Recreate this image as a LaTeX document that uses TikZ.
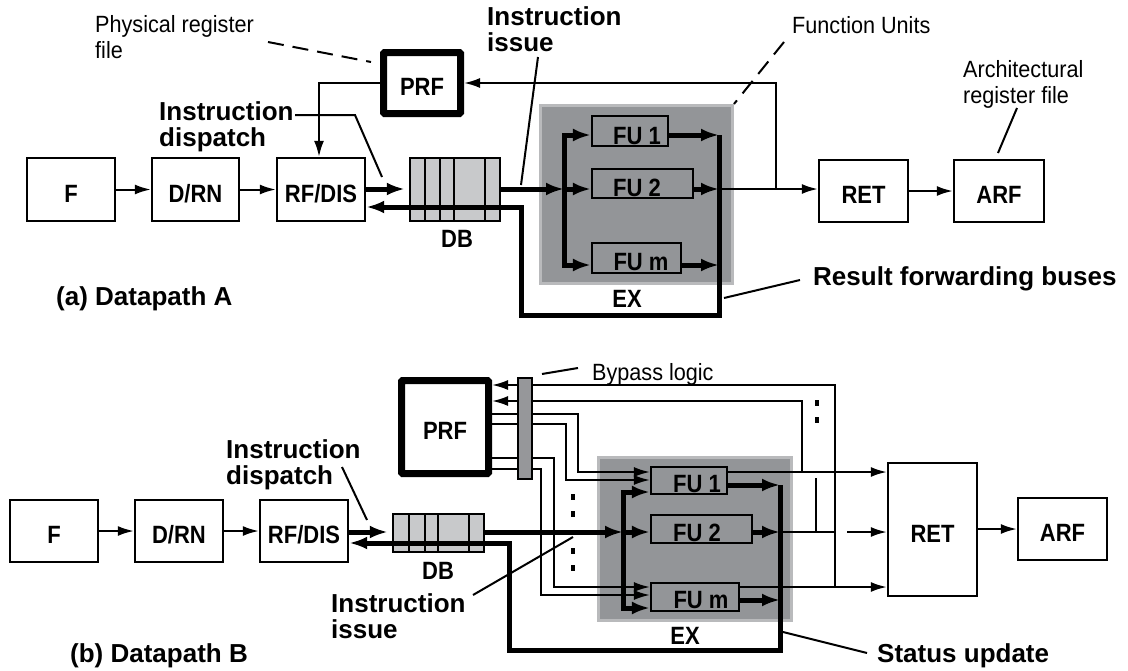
\documentclass[tikz,border=0pt]{standalone}
\usepackage{fontspec}
\setmainfont{Liberation Sans}
\newfontfamily\condf[FakeStretch=0.88]{Liberation Sans}
\newfontfamily\notef[FakeStretch=0.92]{Liberation Sans}
\usetikzlibrary{arrows.meta}
\definecolor{exgray}{RGB}{147,149,152}
\definecolor{exedge}{RGB}{185,186,188}
\definecolor{dbgray}{RGB}{200,201,203}
\definecolor{bargray}{RGB}{150,151,154}
\tikzset{
  blk/.style={draw=black, line width=2.4pt, inner sep=0pt, text height=25pt, text depth=0pt, font={\condf\bfseries\fontsize{25}{27}\selectfont}},
  prfbox/.style={blk, line width=7pt, rounded corners=1pt},
  dbbox/.style={draw=black, fill=dbgray, line width=2.4pt, inner sep=0pt},
  barbox/.style={draw=black, fill=bargray, line width=2pt, inner sep=0pt},
  exbox/.style={draw=exedge, fill=exgray, line width=3pt, inner sep=0pt},
  fubox/.style={draw=black, line width=2.2pt, inner sep=0pt},
  lbl/.style={inner sep=0pt, text height=17.5pt, text depth=0pt, font={\condf\bfseries\fontsize{25}{27}\selectfont}},
  note/.style={inner sep=0pt, align=left, font={\notef\fontsize{23.5}{26}\selectfont}},
  bnote/.style={inner sep=0pt, align=left, font={\bfseries\fontsize{26}{26}\selectfont}},
  wire/.style={line width=2pt},
  wirear/.style={wire, -{Latex[length=16pt,width=10pt]}},
  bus/.style={line width=5pt},
  busar/.style={bus, -{Latex[length=18pt,width=13pt]}},
  busboth/.style={bus, {Latex[length=18pt,width=13pt]}-{Latex[length=18pt,width=13pt]}},
  leader/.style={line width=2pt},
  dleader/.style={line width=2pt, dash pattern=on 16pt off 9pt},
  dotmark/.style={line width=3.5pt},
}
\begin{document}
\begin{tikzpicture}[x=1pt,y=-1pt]
\useasboundingbox (0,0) rectangle (1128,670);

% ================= (a) Datapath A =================
\node[exbox, minimum width=192, minimum height=178] (exA) at (636.5,194.5) {};
\node[fubox, minimum width=76, minimum height=30] (fu1A) at (630,131) {};
\node[fubox, minimum width=101, minimum height=29] (fu2A) at (642.5,183.5) {};
\node[fubox, minimum width=89, minimum height=30] (fumA) at (636.5,258) {};
\node[lbl] (fu1tA) at (637,136) {FU 1};
\node[lbl] (fu2tA) at (637,188) {FU 2};
\node[lbl] (fumtA) at (641,262) {FU m};
\node[lbl] (extA) at (627,298.5) {EX};

\node[blk, minimum width=88, minimum height=63] (fA) at (71,189.5) {F};
\node[blk, minimum width=87, minimum height=63] (drnA) at (195.5,189.5) {D/RN};
\node[blk, minimum width=88, minimum height=63] (rfA) at (321,189.5) {RF/DIS};
\node[dbbox, minimum width=90, minimum height=63] (dbA) at (455,189.5) {};
\foreach \xx in {425,440,454,485} \draw[wire] (\xx,158) -- (\xx,221);
\node[lbl] (dbtA) at (457,238.5) {DB};
\node[prfbox, minimum width=77, minimum height=61] (prfA) at (422,83) {PRF};
\node[blk, minimum width=89, minimum height=62] (retA) at (863.5,191) {RET};
\node[blk, minimum width=90, minimum height=62] (arfA) at (999,191) {ARF};

\coordinate (yiA) at (0,189);
\coordinate (yrA) at (0,207);
\coordinate (y1A) at (0,135);
\coordinate (ymA) at (0,265);
\coordinate (ybA) at (0,315);
\coordinate (ypA) at (0,83);
\coordinate (lbA) at (564,0);
\coordinate (rbA) at (719,0);
\coordinate (rxA) at (521,0);
\coordinate (fbA) at (776,0);
\coordinate (pxA) at (319,0);

\draw[wirear] (fA) -- (drnA);
\draw[wirear] (drnA) -- (rfA);
\draw[wirear] (retA) -- (arfA);
\draw[busar, shorten >=4pt] (rfA.east |- yiA) -- (dbA.west |- yiA);
\draw[busar] (dbA.east |- yiA) -- (lbA |- yiA);
\draw[busar] (lbA |- yiA) -- (fu2A.west |- yiA);
\draw[busboth] (fu1A.west |- y1A) -- (lbA |- y1A) -- (lbA |- ymA) -- (fumA.west |- ymA);
\draw[busar] (fu1A.east |- y1A) -- (rbA |- y1A);
\draw[busar] (fu2A.east |- yiA) -- (rbA |- yiA);
\draw[busar] (fumA.east |- ymA) -- (rbA |- ymA);
\draw[busar] (rbA |- y1A) -- (rbA |- ybA) -- (rxA |- ybA) -- (rxA |- yrA) -- (rfA.east |- yrA);
\draw[wirear] (rbA |- yiA) -- (retA.west |- yiA);
\draw[wirear] (fbA |- yiA) -- (fbA |- ypA) -- (prfA.east |- ypA);
\draw[wirear] (prfA.west |- ypA) -- (pxA |- ypA) -- (pxA |- rfA.north);

% labels (a)
\node[note, anchor=north west] (physA) at (95,15) {Physical register\\file};
\coordinate (physA1) at (268,42); \coordinate (physA2) at (371,62);
\draw[dleader] (physA1) -- (physA2);
\node[bnote, anchor=north west] (dispA) at (159,101.4) {Instruction\\dispatch};
\coordinate (dispA1) at (295,115); \coordinate (dispA2) at (355,115); \coordinate (dispA3) at (382,177);
\draw[leader] (dispA1) -- (dispA2) -- (dispA3);
\node[bnote, anchor=north west] (issA) at (487,6.4) {Instruction\\issue};
\coordinate (issA1) at (538,57); \coordinate (issA2) at (521,185);
\draw[leader] (issA1) -- (issA2);
\node[note, anchor=base west] (fuA) at (792,33) {Function Units};
\coordinate (fuA1) at (784,42);
\draw[dleader] (fuA1) -- (exA.north east);
\node[note, anchor=north west] (archA) at (963,60) {Architectural\\register file};
\coordinate (archA1) at (1017,108); \coordinate (archA2) at (998,153);
\draw[leader] (archA1) -- (archA2);
\node[bnote, anchor=base west] (resA) at (813,285) {Result forwarding buses};
\coordinate (resA1) at (724,298); \coordinate (resA2) at (800,280);
\draw[leader] (resA1) -- (resA2);
\node[bnote, anchor=base west] (capA) at (56,305) {(a) Datapath A};

% ================= (b) Datapath B =================
\node[exbox, minimum width=193, minimum height=163] (exB) at (695,539) {};
\node[fubox, minimum width=76, minimum height=27] (fu1B) at (689,480.5) {};
\node[fubox, minimum width=101, minimum height=28] (fu2B) at (701.5,529) {};
\node[fubox, minimum width=88, minimum height=28] (fumB) at (695,597) {};
\node[lbl] (fu1tB) at (697,484) {FU 1};
\node[lbl] (fu2tB) at (697,533) {FU 2};
\node[lbl] (fumtB) at (701,600) {FU m};
\node[lbl] (extB) at (685,635.5) {EX};

\node[blk, minimum width=88, minimum height=62] (fB) at (54,531) {F};
\node[blk, minimum width=88, minimum height=62] (drnB) at (179,531) {D/RN};
\node[blk, minimum width=88, minimum height=62] (rfB) at (304,531) {RF/DIS};
\node[dbbox, minimum width=91, minimum height=38] (dbB) at (438.5,533) {};
\foreach \xx in {409,425,438,469} \draw[wire] (\xx,514) -- (\xx,552);
\node[lbl] (dbtB) at (438,571) {DB};
\node[prfbox, minimum width=87, minimum height=93] (prfB) at (445,427) {PRF};
\node[barbox, minimum width=14, minimum height=101] (barB) at (525,428.5) {};
\node[blk, minimum width=89, minimum height=133] (retB) at (932.5,529.5) {RET};
\node[blk, minimum width=89, minimum height=62] (arfB) at (1062.5,529) {ARF};

\coordinate (yiB) at (0,532);
\coordinate (yrB) at (0,543);
\coordinate (yt1B) at (0,492);
\coordinate (ytmB) at (0,608);
\coordinate (yo1B) at (0,485);
\coordinate (yomB) at (0,600);
\coordinate (ybB) at (0,650);
\coordinate (lbB) at (623,0);
\coordinate (rbB) at (780,0);
\coordinate (rxB) at (509,0);
\coordinate (w1B) at (0,472);
\coordinate (w1uB) at (0,480);
\coordinate (wmB) at (0,587);
\coordinate (wmuB) at (0,595);
\coordinate (b1B) at (0,385);
\coordinate (b2B) at (0,401);
\coordinate (b3B) at (0,414);
\coordinate (b4B) at (0,424);
\coordinate (b5B) at (0,458);
\coordinate (b6B) at (0,469);
\coordinate (y478B) at (0,478);
\coordinate (fxaB) at (835,0);
\coordinate (fxbB) at (802,0);
\coordinate (fxcB) at (816,0);
\coordinate (gapB) at (847,0);
\coordinate (ixaB) at (578,0);
\coordinate (ixbB) at (566,0);
\coordinate (ixcB) at (554,0);
\coordinate (ixdB) at (541,0);

\draw[wirear] (fB) -- (drnB);
\draw[wirear] (drnB) -- (rfB);
\draw[wirear] (retB.east |- arfB.west) -- (arfB.west);

% bypass network
\draw[wirear] (barB.west |- b1B) -- (prfB.east |- b1B);
\draw[wirear] (barB.west |- b2B) -- (prfB.east |- b2B);
\draw[wire] (prfB.east |- b3B) -- (barB.west |- b3B);
\draw[wire] (prfB.east |- b4B) -- (barB.west |- b4B);
\draw[wire] (prfB.east |- b5B) -- (barB.west |- b5B);
\draw[wire] (prfB.east |- b6B) -- (barB.west |- b6B);
\draw[wire] (barB.east |- b1B) -- (fxaB |- b1B) -- (fxaB |- wmB);
\draw[wire] (barB.east |- b2B) -- (fxbB |- b2B) -- (fxbB |- w1B);
\draw[wirear] (barB.east |- b3B) -- (ixaB |- b3B) -- (ixaB |- w1B) -- (fu1B.west |- w1B);
\draw[wirear] (barB.east |- b4B) -- (ixbB |- b4B) -- (ixbB |- w1uB) -- (fu1B.west |- w1uB);
\draw[wirear] (barB.east |- b5B) -- (ixcB |- b5B) -- (ixcB |- wmB) -- (fumB.west |- wmB);
\draw[wirear] (barB.east |- b6B) -- (ixdB |- b6B) -- (ixdB |- wmuB) -- (fumB.west |- wmuB);

% results to RET
\draw[wirear] (fu1B.east |- w1B) -- (retB.west |- w1B);
\draw[wire] (rbB |- yiB) -- (fxaB |- yiB);
\draw[wirear] (gapB |- yiB) -- (retB.west |- yiB);
\draw[wire] (fxcB |- yiB) -- (fxcB |- y478B);
\draw[wirear] (fumB.east |- wmB) -- (retB.west |- wmB);

% thick buses
\draw[busar, shorten >=4pt] (rfB.east |- yiB) -- (dbB.west |- yiB);
\draw[busar] (dbB.east |- yiB) -- (lbB |- yiB);
\draw[busar] (lbB |- yiB) -- (fu2B.west |- yiB);
\draw[busboth] (fu1B.west |- yt1B) -- (lbB |- yt1B) -- (lbB |- ytmB) -- (fumB.west |- ytmB);
\draw[busar] (fu1B.east |- yo1B) -- (rbB |- yo1B);
\draw[busar] (fu2B.east |- yiB) -- (rbB |- yiB);
\draw[busar] (fumB.east |- yomB) -- (rbB |- yomB);
\draw[busar] (rbB |- yo1B) -- (rbB |- ybB) -- (rxB |- ybB) -- (rxB |- yrB) -- (rfB.east |- yrB);

% ellipsis marks
\foreach \yy in {497,514,551,568} \draw[dotmark] (573,\yy-3) -- (573,\yy+3);
\foreach \yy in {403,420} \draw[dotmark] (817,\yy-3) -- (817,\yy+3);

% labels (b)
\node[note, anchor=base west] (bypB) at (592,380) {Bypass logic};
\coordinate (bypB1) at (542,374); \coordinate (bypB2) at (578,368);
\draw[leader] (bypB1) -- (bypB2);
\node[bnote, anchor=north west] (dispB) at (226,439.4) {Instruction\\dispatch};
\coordinate (dispB1) at (342,467); \coordinate (dispB2) at (367,520);
\draw[leader] (dispB1) -- (dispB2);
\node[bnote, anchor=north west] (issB) at (331,593.4) {Instruction\\issue};
\coordinate (issB1) at (473,595); \coordinate (issB2) at (573,537);
\draw[leader] (issB1) -- (issB2);
\node[bnote, anchor=base west] (statB) at (877,662) {Status update};
\coordinate (statB1) at (783,632); \coordinate (statB2) at (867,653);
\draw[leader] (statB1) -- (statB2);
\node[bnote, anchor=base west] (capB) at (70,662) {(b) Datapath B};
\end{tikzpicture}
\end{document}
